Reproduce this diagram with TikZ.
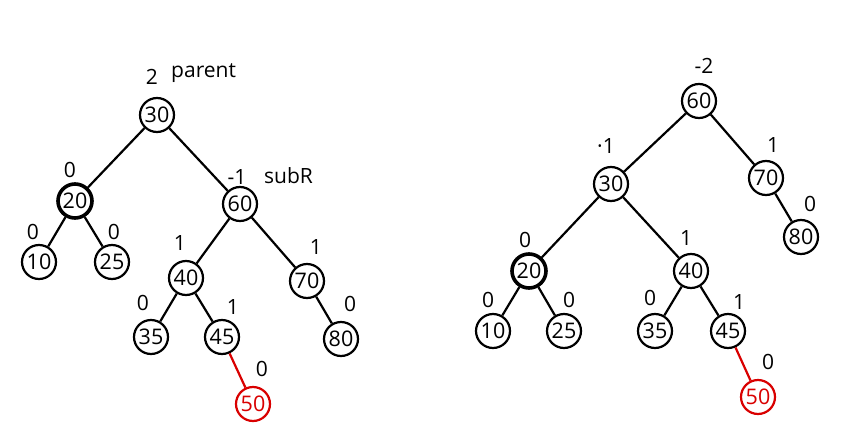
\documentclass[tikz,border=0pt]{standalone}
\usepackage{fontspec}
\setmainfont{Open Sans}
\begin{document}
\begin{tikzpicture}[x=1pt,y=-1pt,
  nd/.style={circle,draw,line width=2.2pt,minimum size=34pt,inner sep=0pt,font=\fontsize{21.5}{21.5}\selectfont},
  thick nd/.style={nd,line width=3.6pt},
  red nd/.style={nd,draw=red!85!black,text=red!85!black},
  bf/.style={font=\fontsize{21}{21}\selectfont,inner sep=0pt},
  ed/.style={line width=2.2pt},
  red ed/.style={ed,draw=red!85!black}]
\useasboundingbox (0,0) rectangle (846,431);
% left tree
\node[nd] (a30) at (157,115) {30};
\node[thick nd] (a20) at (75,201) {20};
\node[nd] (a60) at (240,204) {60};
\node[nd] (a10) at (39,262) {10};
\node[nd] (a25) at (112,262) {25};
\node[nd] (a40) at (186,278) {40};
\node[nd] (a70) at (307,281) {70};
\node[nd] (a35) at (151,337) {35};
\node[nd] (a45) at (222,337) {45};
\node[nd] (a80) at (341,339) {80};
\node[red nd] (a50) at (253,404) {50};
\draw[ed] (a30) -- (a20);
\draw[ed] (a30) -- (a60);
\draw[ed] (a20) -- (a10);
\draw[ed] (a20) -- (a25);
\draw[ed] (a60) -- (a40);
\draw[ed] (a60) -- (a70);
\draw[ed] (a40) -- (a35);
\draw[ed] (a40) -- (a45);
\draw[ed] (a70) -- (a80);
\draw[red ed] (a45) -- (a50);
\node[bf] (la30) at (152,77) {2};
\node[bf,anchor=west] (lparent) at (171,73) {parent};
\node[bf] (la20) at (70,170) {0};
\node[bf] (la60) at (237,177) {-1};
\node[bf,anchor=west] (lsubr) at (264,176) {subR};
\node[bf] (la10) at (33,232) {0};
\node[bf] (la25) at (114,232) {0};
\node[bf] (la40) at (180,243) {1};
\node[bf] (la70) at (316,247) {1};
\node[bf] (la35) at (143,303) {0};
\node[bf] (la45) at (233,307) {1};
\node[bf] (la80) at (350,304) {0};
\node[bf] (la50) at (262,369) {0};
% right tree
\node[nd] (b60) at (699,101) {60};
\node[nd] (b30) at (611,184) {30};
\node[nd] (b70) at (766,178) {70};
\node[thick nd] (b20) at (529,271) {20};
\node[nd] (b40) at (691,271) {40};
\node[nd] (b80) at (801,237) {80};
\node[nd] (b10) at (493,331) {10};
\node[nd] (b25) at (564,331) {25};
\node[nd] (b35) at (655,331) {35};
\node[nd] (b45) at (728,331) {45};
\node[red nd] (b50) at (758,397) {50};
\draw[ed] (b60) -- (b30);
\draw[ed] (b60) -- (b70);
\draw[ed] (b30) -- (b20);
\draw[ed] (b30) -- (b40);
\draw[ed] (b70) -- (b80);
\draw[ed] (b20) -- (b10);
\draw[ed] (b20) -- (b25);
\draw[ed] (b40) -- (b35);
\draw[ed] (b40) -- (b45);
\draw[red ed] (b45) -- (b50);
\node[bf] (lb60) at (704,66) {-2};
\node[bf] (lb30) at (606,146) {·1};
\node[bf] (lb70) at (773,145) {1};
\node[bf] (lb80) at (810,204) {0};
\node[bf] (lb20) at (525,240) {0};
\node[bf] (lb40) at (686,238) {1};
\node[bf] (lb10) at (488,300) {0};
\node[bf] (lb25) at (569,300) {0};
\node[bf] (lb35) at (650,298) {0};
\node[bf] (lb45) at (739,302) {1};
\node[bf] (lb50) at (768,362) {0};
\end{tikzpicture}
\end{document}
